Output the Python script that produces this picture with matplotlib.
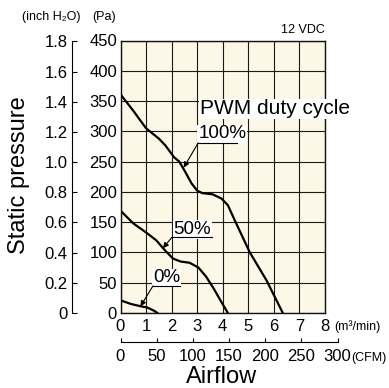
import matplotlib
matplotlib.use('Agg')
import matplotlib.pyplot as plt
from matplotlib import font_manager
import numpy as np

# airflow (m3/min) vs static pressure (Pa)
flow_100 = [0, 0.5, 1.0, 1.5, 1.75, 2.1, 2.3, 2.52, 2.78, 3.0, 3.2, 3.6, 3.95, 4.2, 4.47, 5.06, 5.71, 6.35]
pres_100 = [361, 334, 305, 288, 277, 257, 250, 234, 214, 202, 198, 196, 189, 178, 153, 100, 54, 0]

flow_50 = [0, 0.5, 1.0, 1.4, 1.75, 2.05, 2.35, 2.7, 3.05, 3.35, 3.65, 3.95, 4.2]
pres_50 = [169, 148, 133, 120, 103, 90, 85, 83, 75, 60, 40, 18, 0]

flow_0 = [0, 0.4, 0.8, 1.05, 1.3, 1.45]
pres_0 = [21, 15, 11, 9, 4, 0]

x_ticks = list(range(0, 9))
pa_ticks = list(range(0, 451, 50))
inch_ticks = [0, 0.2, 0.4, 0.6, 0.8, 1.0, 1.2, 1.4, 1.6, 1.8]
inch_labels = ['0', '0.2', '0.4', '0.6', '0.8', '1.0', '1.2', '1.4', '1.6', '1.8']
cfm_ticks = [0, 50, 100, 150, 200, 250, 300]

PA_PER_INCH = 249.089
CFM_PER_M3MIN = 35.3147

SANS = ['Liberation Sans', 'DejaVu Sans']
plt.rcParams['font.family'] = SANS

# tick numbers are a condensed face in the original; use a narrow font if there is one
installed = {f.name for f in font_manager.fontManager.ttflist}
if 'Liberation Sans Narrow' in installed:
    NUM = dict(fontfamily='Liberation Sans Narrow', fontsize=13.4)
else:
    NUM = dict(fontfamily='Liberation Sans', fontsize=12)

W, H = 389, 388
fig = plt.figure(figsize=(W / 100, H / 100), dpi=100)

def fx(px):
    return px / W

def fy(py):
    return 1 - py / H

left_px, right_px, top_px, bot_px = 120.5, 325, 40.5, 313
ax = fig.add_axes([fx(left_px), fy(bot_px), (right_px - left_px) / W, (bot_px - top_px) / H])
ax.set_facecolor('#fcf7e6')
ax.set_xlim(0, 8)
ax.set_ylim(0, 450)
ax.set_xticks(x_ticks, labels=[str(v) for v in x_ticks], **NUM)
ax.set_yticks(pa_ticks, labels=[str(v) for v in pa_ticks], **NUM)
ax.tick_params(axis='both', length=0)
ax.tick_params(axis='x', pad=4)
ax.tick_params(axis='y', pad=2.5)
ax.grid(True, color='#1a1a1a', lw=0.8)
ax.set_axisbelow(True)
for s in ax.spines.values():
    s.set_linewidth(1.0)
    s.set_color('#111111')

for fl, pr in [(flow_100, pres_100), (flow_50, pres_50), (flow_0, pres_0)]:
    ax.plot(fl, pr, color='black', lw=1.6, solid_joinstyle='round', solid_capstyle='round', zorder=3)

# curve labels with leader arrows
box = dict(facecolor='white', edgecolor='none', pad=0.5)
ax.text(3.1, 337, 'PWM duty cycle', fontsize=15, ha='left', va='center', bbox=box, zorder=4)

labels = [
    ('100%', 3.98, 296, (3.04, 4.54, 281), (2.47, 240)),
    ('50%', 2.81, 138, (2.01, 3.57, 125), (1.66, 107)),
    ('0%', 1.8, 58, (1.27, 2.32, 44.7), (0.78, 11)),
]
for txt, tx, ty, (u0, u1, uy), tip in labels:
    ax.text(tx, ty, txt, fontsize=13.5, ha='center', va='center', bbox=box, zorder=4)
    ax.plot([u0, u1], [uy, uy], color='black', lw=0.8, zorder=4)
    ax.annotate('', xy=tip, xytext=(u0, uy),
                arrowprops=dict(arrowstyle='-|>', color='black', lw=0.8,
                                mutation_scale=8, shrinkA=0, shrinkB=0), zorder=4)

# inch H2O axis
sec = ax.secondary_yaxis((72 - left_px) / (right_px - left_px),
                         functions=(lambda p: p / PA_PER_INCH, lambda i: i * PA_PER_INCH))
sec.set_yticks(inch_ticks, labels=inch_labels, **NUM)
sec.tick_params(direction='in', length=3.6, width=0.8, pad=3)
sec.spines['left'].set_bounds(0, 1.8)
sec.spines['left'].set_linewidth(0.8)

# CFM axis
unit_px = (right_px - left_px) / 8
axc = fig.add_axes([fx(left_px), fy(341.7), 300 / CFM_PER_M3MIN * unit_px / W, 0.0001])
axc.set_xlim(0, 300)
axc.patch.set_visible(False)
for k in ['top', 'left', 'right']:
    axc.spines[k].set_visible(False)
axc.spines['bottom'].set_linewidth(0.8)
axc.set_yticks([])
axc.set_xticks(cfm_ticks, labels=[str(v) for v in cfm_ticks], **NUM)
axc.tick_params(axis='x', direction='in', length=3, width=0.8, pad=5)

# units, titles
fig.text(fx(51), fy(17), '(inch H\u2082O)', fontsize=9, ha='center', va='center')
fig.text(fx(104.5), fy(17), '(Pa)', fontsize=9, ha='center', va='center')
fig.text(fx(325), fy(30), '12 VDC', fontsize=9, ha='right', va='center')
fig.text(fx(334), fy(327), '(m\u00b3/min)', fontsize=9, ha='left', va='center')
fig.text(fx(351), fy(358), '(CFM)', fontsize=9, ha='left', va='center')
fig.text(fx(19), fy(175), 'Static pressure', fontsize=17, rotation=90, ha='center', va='center')
fig.text(fx(222), fy(383), 'Airflow', fontsize=17, ha='center', va='baseline')

fig.savefig('out.png', dpi=100)
